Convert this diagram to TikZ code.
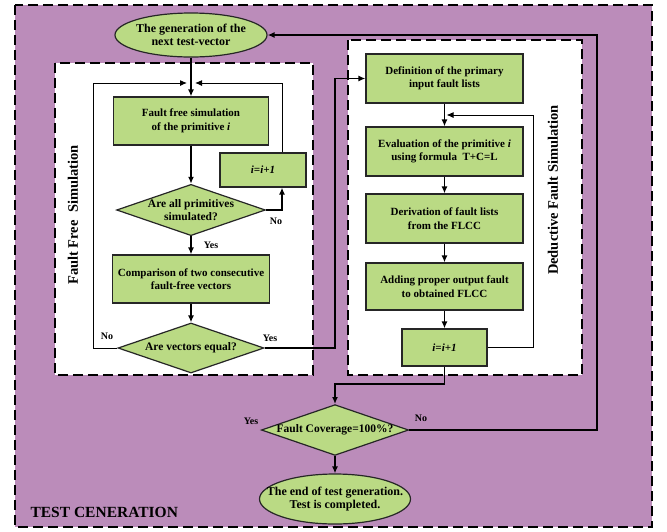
\documentclass[tikz,border=0pt]{standalone}
\usepackage{fontspec}
\setmainfont{Liberation Serif}
\usetikzlibrary{shapes.geometric,arrows.meta}
\definecolor{tgpurple}{RGB}{187,140,186}
\definecolor{boxgreen}{RGB}{186,218,132}
\begin{document}
\begin{tikzpicture}[x=1pt,y=-1pt,
  every node/.style={font=\bfseries\fontsize{11}{13.5}\selectfont},
  procbox/.style={rectangle, draw=black!85, line width=1.2pt, fill=boxgreen, align=center, inner sep=0pt},
  testbox/.style={diamond, aspect=2.9, draw=black!85, line width=1.2pt, fill=boxgreen, align=center, inner sep=0pt, font=\bfseries\fontsize{11.5}{13.5}\selectfont},
  termbox/.style={ellipse, draw=black!85, line width=1.2pt, fill=boxgreen, align=center, inner xsep=-16pt, inner ysep=0pt, font=\bfseries\fontsize{12}{13.5}\selectfont},
  flow/.style={line width=1.4pt, -{Latex[length=7pt,width=6pt]}},
  loopline/.style={line width=1pt},
  answer/.style={font=\bfseries\fontsize{10}{12}\selectfont},
  sidelabel/.style={rotate=90, font=\bfseries\fontsize{14.5}{16}\selectfont},
  frame/.style={dashed, dash pattern=on 10pt off 5pt, line width=2pt}]
\useasboundingbox (0,0) rectangle (667,531);
% frames
\draw[frame, fill=tgpurple] (15,5) rectangle (652,527);
\draw[frame, fill=white] (55,63) rectangle (313,375);
\draw[frame, fill=white] (348,40) rectangle (582,375);
\node[sidelabel] (fflabel) at (73,215) {Fault Free~~Simulation};
\node[sidelabel] (dflabel) at (553,190) {Deductive Fault Simulation};
\node[anchor=west, font=\bfseries\fontsize{15.5}{17}\selectfont] (tglabel) at (27,512) {TEST CENERATION};
% nodes
\node[termbox, minimum width=152, minimum height=44] (gen) at (191,35) {The generation of the\\next test-vector};
\node[procbox, minimum width=155, minimum height=48] (ffsim) at (191,121) {Fault free simulation\\of the primitive \textit{i}};
\node[testbox, minimum width=147, minimum height=50] (allsim) at (191,210) {Are all primitives\\simulated?};
\node[procbox, minimum width=86, minimum height=34] (inc1) at (263,170) {\textit{i=i+1}};
\node[procbox, minimum width=157, minimum height=48] (comp) at (191,279) {Comparison of two consecutive\\fault-free vectors};
\node[testbox, minimum width=146, minimum height=50] (equal) at (191,348) {Are vectors equal?};
\node[procbox, minimum width=157, minimum height=49] (def) at (444.5,78.5) {Definition of the primary\\input fault lists};
\node[procbox, minimum width=157, minimum height=49] (eval) at (444.5,151.5) {Evaluation of the primitive \textit{i}\\using formula~~T+C=L};
\node[procbox, minimum width=157, minimum height=49] (deriv) at (444.5,218.5) {Derivation of fault lists\\from the FLCC};
\node[procbox, minimum width=157, minimum height=47] (add) at (444.5,286.5) {Adding proper output fault\\to obtained FLCC};
\node[procbox, minimum width=85, minimum height=37] (inc2) at (444.5,347.5) {\textit{i=i+1}};
\node[testbox, minimum width=147, minimum height=50] (cov) at (335,430) {Fault Coverage=100\%?};
\node[termbox, minimum width=151, minimum height=50] (endtest) at (335,499) {The end of test generation.\\Test is completed.};
% bends
\coordinate (ffjoin) at (191,83);
\coordinate (ffL) at (93,83);
\coordinate (ffR) at (282,83);
\coordinate (ffout) at (335,78.5);
\coordinate (dfjoin) at (444.5,115);
\coordinate (dfR) at (533,115);
\coordinate (dfout) at (444.5,384);
\coordinate (loopR) at (597,35);
% connectors
\draw[flow] (gen) -- (ffsim);
\draw[flow, loopline, shorten >=4pt] (equal.west) -| (ffL) -- (ffjoin);
\draw[flow, loopline, shorten >=4pt] (inc1.north -| ffR) -- (ffR) -- (ffjoin);
\draw[flow] (ffsim) -- (allsim);
\draw[flow] (allsim.east) -| (inc1.south -| ffR);
\draw[flow] (allsim) -- (comp);
\draw[flow] (comp) -- (equal);
\draw[flow] (equal.east) -| (ffout) -- (def.west);
\draw[flow] (def) -- (eval);
\draw[flow] (eval) -- (deriv);
\draw[flow] (deriv) -- (add);
\draw[flow] (add) -- (inc2);
\draw[flow, loopline, shorten >=2pt] (inc2.east) -| (dfR) -- (dfjoin);
\draw[flow] (inc2.south) -- (dfout) -| (cov.north);
\draw[flow] (cov.east) -| (loopR) -- (gen.east);
\draw[flow] (cov) -- (endtest);
% answers
\node[answer] (no1) at (276,221) {No};
\node[answer] (yes1) at (211,245) {Yes};
\node[answer] (no2) at (107,336) {No};
\node[answer] (yes2) at (270,338) {Yes};
\node[answer] (yes3) at (251,421) {Yes};
\node[answer] (no3) at (421,418) {No};
\end{tikzpicture}
\end{document}
